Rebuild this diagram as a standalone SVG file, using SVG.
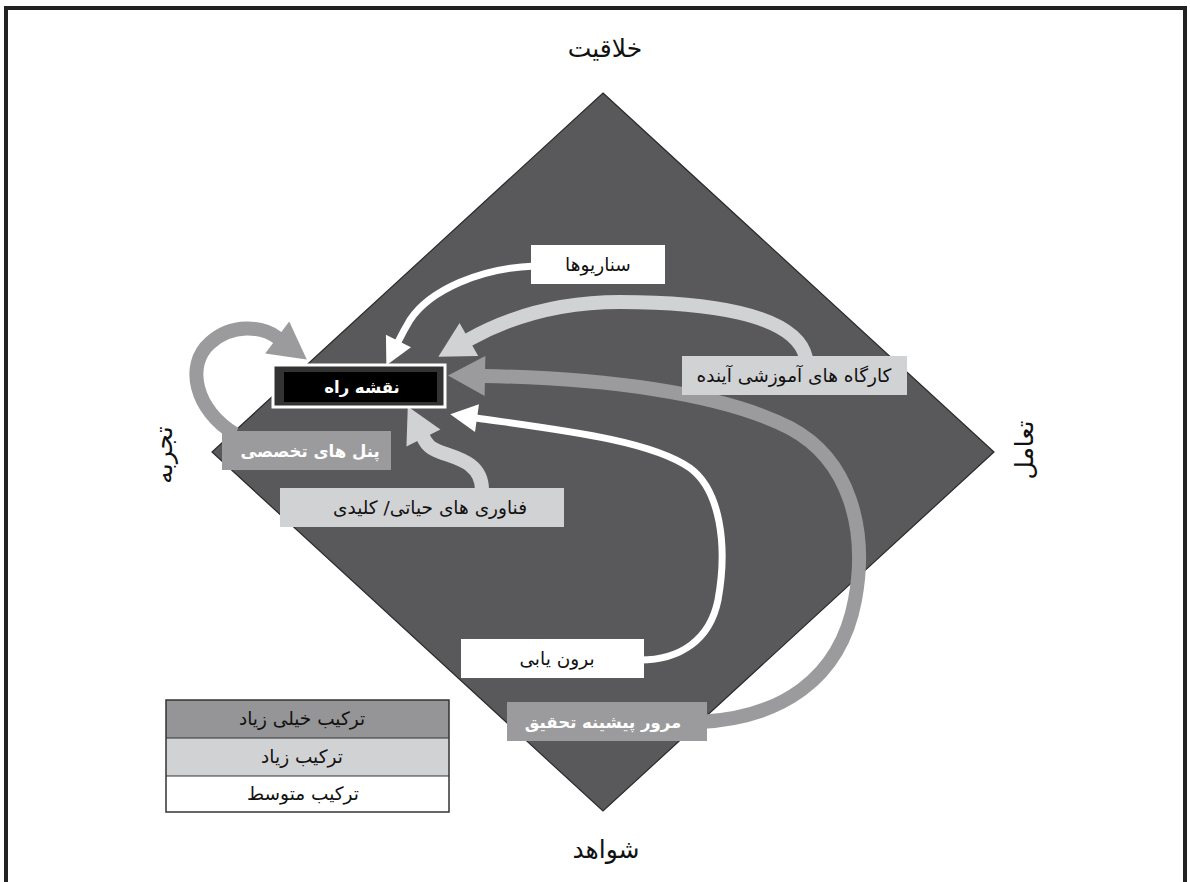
<svg xmlns="http://www.w3.org/2000/svg" width="1190" height="882" viewBox="0 0 1190 882">
<style>
text{font-family:"DejaVu Sans","Noto Sans",sans-serif;text-anchor:middle}
.ax{font-size:25px;fill:#111}
.lb{font-size:18.5px;fill:#111}
.lw{font-size:16.5px;fill:#fff;font-weight:bold}
.lg{font-size:18.5px;fill:#111}
.w{fill:#fff}
.l{fill:#d1d2d4}
.m{fill:#9b9b9d}
.cw{fill:none;stroke:#fff;stroke-width:7}
.cl{fill:none;stroke:#d1d2d4;stroke-width:14}
.cm{fill:none;stroke:#9b9b9d;stroke-width:14}
</style>
<defs>
<marker id="aw" markerUnits="userSpaceOnUse" markerWidth="40" markerHeight="40" refX="0" refY="0" orient="auto" overflow="visible"><path d="M-1,-14 L26,0 L-1,14 Z" fill="#fff"/></marker>
<marker id="al" markerUnits="userSpaceOnUse" markerWidth="40" markerHeight="40" refX="0" refY="0" orient="auto" overflow="visible"><path d="M-1,-19 L34,0 L-1,19 Z" fill="#d1d2d4"/></marker>
<marker id="am" markerUnits="userSpaceOnUse" markerWidth="40" markerHeight="40" refX="0" refY="0" orient="auto" overflow="visible"><path d="M-1,-20 L36,0 L-1,20 Z" fill="#9b9b9d"/></marker>
</defs>
<rect width="1190" height="882" fill="#fff"/>
<path d="M6,882 V8 H1185 V882" fill="none" stroke="#222" stroke-width="4"/>
<g id="diamond">
<polygon points="603,93 994,452 603,811 212,452" fill="#59595b" stroke="#2a2a2a" stroke-width="1.2"/>
</g>
<g id="axis-labels">
<text class="ax" x="605" y="57">خلاقیت</text>
<text class="ax" x="606" y="858">شواهد</text>
<text class="ax" transform="translate(172,455) rotate(-90)">تجربه</text>
<text class="ax" transform="translate(1033,450) rotate(-90)">تعامل</text>
</g>
<g id="connectors">
<path class="cw" d="M535,266 C480,268 430,290 410,320 C404,330 400,338 398,342" marker-end="url(#aw)"/>
<path class="cl" d="M806,358 C796,312 700,302 620,302 C550,302 500,322 468,340" marker-end="url(#al)"/>
<path class="cm" d="M700,722 C780,718 840,680 855,600 C868,530 850,460 790,428 C720,392 600,378 484,376" marker-end="url(#am)"/>
<path class="cw" d="M640,660 C680,660 710,640 718,600 C728,545 720,490 690,468 C650,440 560,430 476,418" marker-end="url(#aw)"/>
<path class="cl" d="M482,490 C482,462 455,458 440,452 C430,448 427,445 423,437" marker-end="url(#al)"/>
<path class="cm" d="M235,434 C195,410 185,365 210,343 C232,323 262,326 278,338" marker-end="url(#am)"/>
</g>
<g id="roadmap">
<rect x="273" y="365" width="172" height="42" fill="#333" stroke="#fff" stroke-width="3"/>
<rect x="284" y="372" width="153" height="30" fill="#000"/>
<text class="lw" x="362" y="393" font-size="14.5">نقشه راه</text>
</g>
<g id="scenarios">
<rect class="w" x="531" y="245" width="134" height="39"/>
<text class="lb" x="598" y="271">سناریوها</text>
</g>
<g id="workshops">
<rect class="l" x="682" y="356" width="225" height="39"/>
<text class="lb" x="794" y="382">کارگاه های آموزشی آینده</text>
</g>
<g id="panels">
<rect class="m" x="222" y="431" width="169" height="39"/>
<text class="lw" x="310" y="457">پنل های تخصصی</text>
</g>
<g id="technologies">
<rect class="l" x="280" y="488" width="284" height="39"/>
<text class="lb" x="430" y="514">فناوری های حیاتی/ کلیدی</text>
</g>
<g id="extrapolation">
<rect class="w" x="461" y="639" width="183" height="39"/>
<text class="lb" x="557" y="665">برون یابی</text>
</g>
<g id="literature">
<rect class="m" x="507" y="702" width="200" height="39"/>
<text class="lw" x="603" y="728">مرور پیشینه تحقیق</text>
</g>
<g id="legend">
<rect x="166" y="700" width="283" height="38" fill="#959597"/>
<rect class="l" x="166" y="738" width="283" height="38"/>
<rect class="w" x="166" y="776" width="283" height="36"/>
<rect x="166" y="700" width="283" height="112" fill="none" stroke="#333" stroke-width="1.5"/>
<line x1="166" y1="738" x2="449" y2="738" stroke="#333" stroke-width="1"/>
<line x1="166" y1="776" x2="449" y2="776" stroke="#333" stroke-width="1"/>
<text class="lg" x="302" y="725">ترکیب خیلی زیاد</text>
<text class="lg" x="302" y="763">ترکیب زیاد</text>
<text class="lg" x="303" y="800">ترکیب متوسط</text>
</g>
</svg>
